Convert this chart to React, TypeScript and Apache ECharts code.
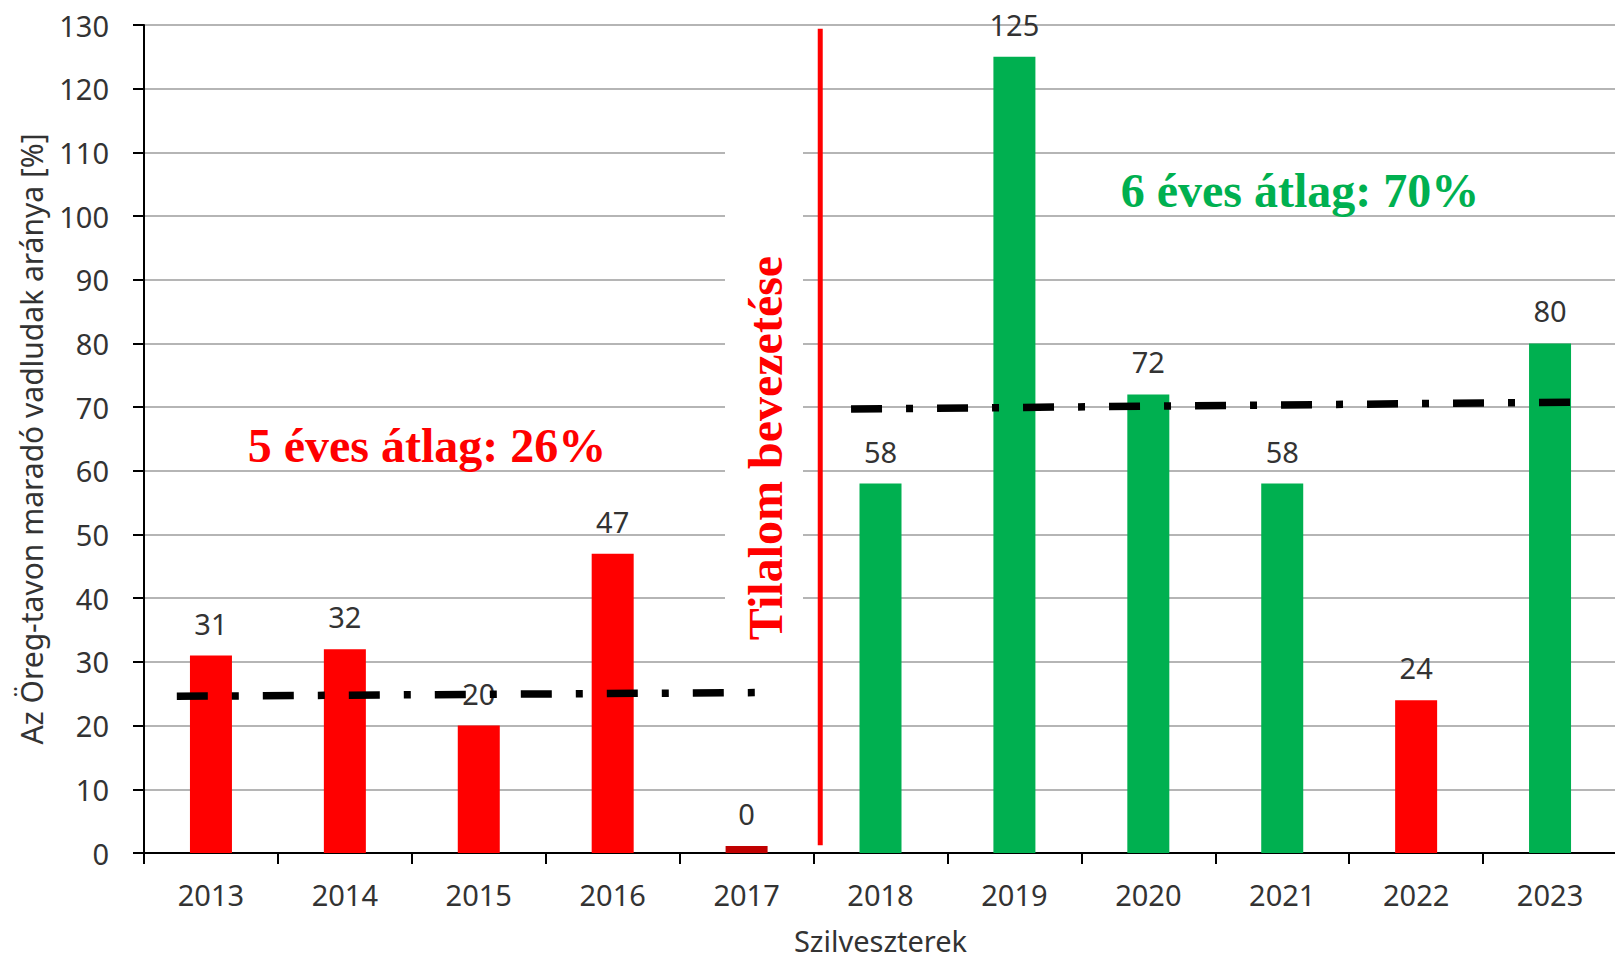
import React, { useEffect, useRef } from "react";
import * as echarts from "echarts";

// ---- data ----
const years = ["2013", "2014", "2015", "2016", "2017", "2018", "2019", "2020", "2021", "2022", "2023"];
const values = [31, 32, 20, 47, 0, 58, 125, 72, 58, 24, 80];
const barGroup = ["red", "red", "red", "red", "dark", "green", "green", "green", "green", "red", "green"];
// average lines, x in category units (0..11), y in %
const avgBefore = [[0.245, 24.6], [4.66, 25.2]];
const avgAfter = [[5.28, 69.7], [10.75, 70.8]];
const banLine = [[5.05, 1.2], [5.05, 129.4]];
const yTicks = { min: 0, max: 130, interval: 10 };
const texts = {
  yName: "Az Öreg-tavon maradó vadludak aránya [%]",
  xName: "Szilveszterek",
  ban: "Tilalom bevezetése",
  avg5: "5 éves átlag: 26%",
  avg6: "6 éves átlag: 70%",
};

const palette: Record<string, string> = { red: "#FF0000", dark: "#C00000", green: "#00B050" };

export default function App() {
  const ref = useRef<HTMLDivElement>(null);
  useEffect(() => {
    document.body.style.margin = "0";
    const chart = echarts.init(ref.current!, null, { renderer: "svg" });
    const sans = "Noto Sans";
    const serif = "Liberation Serif";
    const dashLine = {
      color: "#000",
      width: 7.5,
      type: [31, 24, 7, 24] as any,
      cap: "butt" as const,
    };
    chart.setOption({
      animation: false,
      backgroundColor: "#fff",
      grid: { left: 144, right: -2, top: 25, bottom: 108, containLabel: false, outerBoundsMode: "none" },
      xAxis: [
        {
          type: "category",
          data: years,
          axisLine: { lineStyle: { color: "#000", width: 2 } },
          axisTick: { show: true, length: 11, lineStyle: { color: "#000", width: 2 } },
          axisLabel: { fontFamily: sans, fontSize: 29, color: "#333", margin: 27 },
          name: texts.xName,
          nameLocation: "middle",
          nameGap: 74,
          nameTextStyle: { fontFamily: sans, fontSize: 29, color: "#333", lineHeight: 26 },
        },
        { type: "value", min: 0, max: 11, show: false },
      ],
      yAxis: {
        type: "value",
        min: yTicks.min,
        max: yTicks.max,
        interval: yTicks.interval,
        axisLine: { show: true, lineStyle: { color: "#000", width: 2 } },
        axisTick: { show: true, length: 11, lineStyle: { color: "#000", width: 2 } },
        axisLabel: { fontFamily: sans, fontSize: 29, color: "#333", margin: 35 },
        splitLine: { lineStyle: { color: "#B5B5B5", width: 2 } },
        name: texts.yName,
        nameLocation: "middle",
        nameGap: 98,
        nameTextStyle: { fontFamily: sans, fontSize: 30, color: "#333" },
      },
      series: [
        {
          type: "bar",
          xAxisIndex: 0,
          barWidth: 42,
          barMinHeight: 7,
          data: values.map((v, i) => ({ value: v, itemStyle: { color: palette[barGroup[i]] } })),
          label: {
            show: true,
            position: "top",
            distance: 18,
            fontFamily: sans,
            fontSize: 29,
            color: "#333",
          },
          z: 2,
        },
        {
          type: "line",
          xAxisIndex: 1,
          data: avgBefore,
          showSymbol: false,
          symbol: "none",
          lineStyle: dashLine,
          z: 5,
        },
        {
          type: "line",
          xAxisIndex: 1,
          data: avgAfter,
          showSymbol: false,
          symbol: "none",
          lineStyle: dashLine,
          z: 5,
        },
        {
          type: "line",
          xAxisIndex: 1,
          data: banLine,
          showSymbol: false,
          symbol: "none",
          lineStyle: { color: "#FF0000", width: 5, type: "solid" },
          z: 5,
        },
      ],
      graphic: [
        { type: "rect", shape: { x: 725, y: 130, width: 78, height: 525 }, style: { fill: "#fff" }, z: 50 },
        {
          type: "text",
          x: 765,
          y: 448,
          rotation: Math.PI / 2,
          z: 60,
          style: {
            text: texts.ban,
            fontFamily: serif,
            fontWeight: "bold",
            fontSize: 48,
            fill: "#FF0000",
            align: "center",
            verticalAlign: "middle",
          },
        },
        {
          type: "text",
          x: 427,
          y: 445,
          z: 60,
          style: {
            text: texts.avg5,
            fontFamily: serif,
            fontWeight: "bold",
            fontSize: 48,
            fill: "#FF0000",
            align: "center",
            verticalAlign: "middle",
          },
        },
        {
          type: "text",
          x: 1300,
          y: 190,
          z: 60,
          style: {
            text: texts.avg6,
            fontFamily: serif,
            fontWeight: "bold",
            fontSize: 48,
            fill: "#00B050",
            align: "center",
            verticalAlign: "middle",
          },
        },
      ],
    });
    return () => chart.dispose();
  }, []);
  return <div ref={ref} style={{ width: 1615, height: 961 }} />;
}
